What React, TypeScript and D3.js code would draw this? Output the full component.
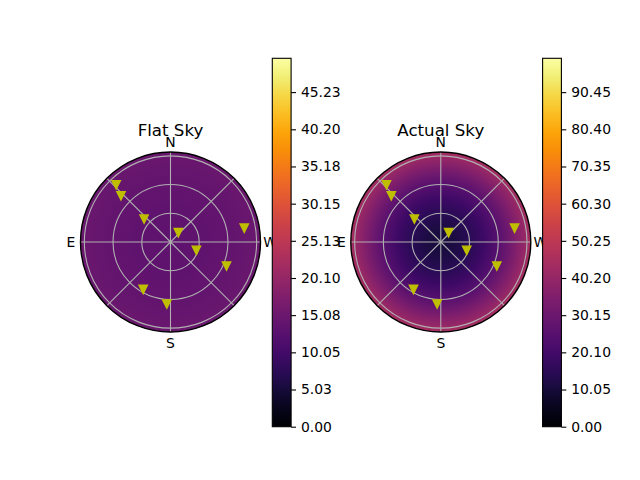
import { useEffect, useRef } from 'react';
import * as d3 from 'd3';

// star positions (azimuth from N towards E, zenith angle), degrees
const azimuths = [43.5, 47.0, 49.1, 320.0, 280.6, 252.2, 246.7, 150.1, 176.6];
const zeniths = [82.4, 70.7, 36.5, 12.7, 78.4, 28.4, 63.7, 57.2, 65.0];

// radial sky brightness profile
const profileZenith = [0, 15, 30, 45, 60, 70, 80, 90, 94];
const flatSkyValues = [13.4, 13.5, 13.6, 13.8, 14.0, 14.2, 14.4, 14.6, 14.8];
const actualSkyValues = [10, 11.5, 14.5, 19, 25, 30, 36, 42, 45];

const flatTickLabels = ['0.00', '5.03', '10.05', '15.08', '20.10', '25.13', '30.15', '35.18', '40.20', '45.23'];
const actualTickLabels = ['0.00', '10.05', '20.10', '30.15', '40.20', '50.25', '60.30', '70.35', '80.40', '90.45'];
const flatMax = 49.8;
const actualMax = 99.6;

const gridZenith = [30, 60, 90];
const spokeAngles = [0, 45, 90, 135, 180, 225, 270, 315];
const compass = [
  { label: 'N', az: 0 },
  { label: 'E', az: 90 },
  { label: 'S', az: 180 },
  { label: 'W', az: 270 },
];

const font = 'DejaVu Sans, sans-serif';

interface PanelOpts {
  id: string;
  title: string;
  cx: number;
  cbX: number;
  values: number[];
  vmax: number;
  tickLabels: string[];
}

function drawPanel(svg: d3.Selection<SVGSVGElement, unknown, null, undefined>, o: PanelOpts) {
  const cy = 242;
  const rScale = d3.scaleLinear().domain([0, 94]).range([0, 90]);
  const R = rScale(94);
  const color = (v: number) => d3.interpolateInferno(v / o.vmax);
  const px = (az: number, z: number) => o.cx - rScale(z) * Math.sin((az * Math.PI) / 180);
  const py = (az: number, z: number) => cy - rScale(z) * Math.cos((az * Math.PI) / 180);

  // sky image as a radial gradient
  const grad = svg
    .append('defs')
    .append('radialGradient')
    .attr('id', o.id)
    .attr('gradientUnits', 'userSpaceOnUse')
    .attr('cx', o.cx)
    .attr('cy', cy)
    .attr('r', R);
  profileZenith.forEach((z, i) => {
    grad
      .append('stop')
      .attr('offset', z / 94)
      .attr('stop-color', color(o.values[i]));
  });

  const g = svg.append('g');
  g.append('circle').attr('cx', o.cx).attr('cy', cy).attr('r', R).attr('fill', `url(#${o.id})`);

  // grid
  gridZenith.forEach((z) => {
    g.append('circle')
      .attr('cx', o.cx)
      .attr('cy', cy)
      .attr('r', rScale(z))
      .attr('fill', 'none')
      .attr('stroke', '#b0b0b0')
      .attr('stroke-width', 1.1);
  });
  spokeAngles.forEach((a) => {
    g.append('line')
      .attr('x1', o.cx)
      .attr('y1', cy)
      .attr('x2', px(a, 94))
      .attr('y2', py(a, 94))
      .attr('stroke', '#b0b0b0')
      .attr('stroke-width', 1.1);
  });

  // stars
  azimuths.forEach((az, i) => {
    const x = px(az, zeniths[i]);
    const y = py(az, zeniths[i]);
    const s = 4.17;
    g.append('path')
      .attr('d', `M${x - s},${y - s}L${x + s},${y - s}L${x},${y + s}Z`)
      .attr('fill', '#bfbf00')
      .attr('stroke', '#bfbf00')
      .attr('stroke-width', 1.4)
      .attr('stroke-linejoin', 'miter');
  });

  // frame
  g.append('circle')
    .attr('cx', o.cx)
    .attr('cy', cy)
    .attr('r', R)
    .attr('fill', 'none')
    .attr('stroke', '#000')
    .attr('stroke-width', 1.4);

  // compass labels
  compass.forEach((c) => {
    const x = px(c.az, 94) - 9.5 * Math.sin((c.az * Math.PI) / 180);
    const y = py(c.az, 94) - 10.5 * Math.cos((c.az * Math.PI) / 180);
    g.append('text')
      .attr('x', x)
      .attr('y', y)
      .attr('text-anchor', 'middle')
      .attr('dominant-baseline', 'central')
      .attr('font-family', font)
      .attr('font-size', '13.9px')
      .attr('fill', '#000')
      .text(c.label);
  });

  g.append('text')
    .attr('x', o.cx)
    .attr('y', 135.5)
    .attr('text-anchor', 'middle')
    .attr('font-family', font)
    .attr('font-size', '16.67px')
    .attr('fill', '#000')
    .text(o.title);

  // colorbar
  const cbTop = 58.3;
  const cbBottom = 426.7;
  const cbW = 18.8;
  const yScale = d3.scaleLinear().domain([0, o.vmax]).range([cbBottom, cbTop]);
  const cbGrad = svg
    .append('defs')
    .append('linearGradient')
    .attr('id', `${o.id}-cb`)
    .attr('x1', 0)
    .attr('y1', 1)
    .attr('x2', 0)
    .attr('y2', 0);
  d3.range(0, 1.0001, 0.05).forEach((t) => {
    cbGrad.append('stop').attr('offset', t).attr('stop-color', d3.interpolateInferno(t));
  });
  const cb = svg.append('g');
  cb.append('rect')
    .attr('x', o.cbX)
    .attr('y', cbTop)
    .attr('width', cbW)
    .attr('height', cbBottom - cbTop)
    .attr('fill', `url(#${o.id}-cb)`)
    .attr('stroke', '#000')
    .attr('stroke-width', 1.1);

  const axis = d3
    .axisRight(yScale)
    .tickValues(o.tickLabels.map((t) => parseFloat(t)))
    .tickFormat((_d, i) => o.tickLabels[i])
    .tickSize(4.9)
    .tickPadding(4.9);
  const ax = cb
    .append('g')
    .attr('transform', `translate(${o.cbX + cbW},0)`)
    .call(axis);
  ax.select('.domain').remove();
  ax.selectAll('line').attr('stroke', '#000').attr('stroke-width', 1.1);
  ax.selectAll('text')
    .attr('font-family', font)
    .attr('font-size', '13.9px')
    .attr('fill', '#000');
}

export default function App() {
  const svgRef = useRef<SVGSVGElement>(null);

  useEffect(() => {
    if (!svgRef.current) return;
    const svg = d3.select(svgRef.current);
    svg.selectAll('*').remove();

    svg.append('rect').attr('width', 640).attr('height', 480).attr('fill', '#fff');

    drawPanel(svg, {
      id: 'flat',
      title: 'Flat Sky',
      cx: 170.5,
      cbX: 272.3,
      values: flatSkyValues,
      vmax: flatMax,
      tickLabels: flatTickLabels,
    });
    drawPanel(svg, {
      id: 'actual',
      title: 'Actual Sky',
      cx: 440.8,
      cbX: 542.6,
      values: actualSkyValues,
      vmax: actualMax,
      tickLabels: actualTickLabels,
    });
  }, []);

  return (
    <svg
      ref={svgRef}
      width={640}
      height={480}
      style={{ position: 'absolute', left: 0, top: 0 }}
    />
  );
}
